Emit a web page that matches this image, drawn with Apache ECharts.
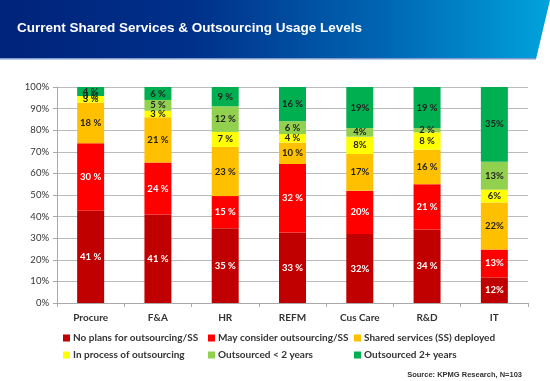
<!DOCTYPE html>
<html><head><meta charset="utf-8">
<script src="https://cdn.jsdelivr.net/npm/echarts@6/dist/echarts.min.js"></script>
<style>html,body{margin:0;padding:0;background:#fff}#c{width:550px;height:381px}</style>
</head><body><div id="c"></div>
<script>
const categories = ['Procure','F&A','HR','REFM','Cus Care','R&D','IT'];
const seriesNames = ['No plans for outsourcing/SS','May consider outsourcing/SS','Shared services (SS) deployed','In process of outsourcing','Outsourced < 2 years','Outsourced 2+ years'];
const noPlans     = [41,41,35,33,32,34,12];
const mayConsider = [30,24,15,32,20,21,13];
const sharedSvc   = [18,21,23,10,17,16,22];
const inProcess   = [3,3,7,4,8,8,6];
const outLt2      = [0,5,12,6,4,2,13];
const out2plus    = [4,6,9,16,19,19,35];
const labelSep    = [' ',' ',' ',' ','',' ',''];
const yTicks = ['0%','10%','20%','30%','40%','50%','60%','70%','80%','90%','100%'];

const raw = [noPlans, mayConsider, sharedSvc, inProcess, outLt2, out2plus];
const colors = ['#C00000','#FF0000','#FFC000','#FFFF00','#92D050','#00B050'];
const labelColors = ['#fff','#fff','#222','#222','#222','#222'];
const totals = categories.map((c,i)=>raw.reduce((s,a)=>s+a[i],0));

const chart = echarts.init(document.getElementById('c'));
const series = raw.map((arr,k)=>({
  name: seriesNames[k], type:'bar', stack:'s', barWidth:27,
  itemStyle:{color:colors[k]},
  data: arr.map((v,i)=>({value: v/totals[i]*100, raw:v})),
  label:{show:true, position:'inside', fontFamily:'Lato', fontWeight:'bold', fontSize:9.5,
    color:labelColors[k],
    formatter:(p)=> p.data.raw + labelSep[p.dataIndex] + '%'}
}));

const legPos = [[63,333],[208,333],[354,333],[63,350],[208,350],[354,350]];
const legends = seriesNames.map((n,k)=>({
  data:[n], left:legPos[k][0], top:legPos[k][1], itemWidth:7, itemHeight:7, icon:'rect',
  padding:0, itemGap:4, textStyle:{fontFamily:'Lato', fontWeight:'bold', fontSize:10, color:'#333', padding:[0,0,0,-2]},
  selectedMode:false
}));

chart.setOption({
  animation:false,
  graphic:[
    {type:'polygon', shape:{points:[[0,0],[550,0],[536,59],[0,59]]},
     style:{fill:new echarts.graphic.LinearGradient(0,0,1,0,[{offset:0,color:'#00237A'},{offset:0.35,color:'#00308A'},{offset:0.7,color:'#0066B3'},{offset:1,color:'#00A3DC'}])}},
    {type:'rect', shape:{x:0,y:58,width:536,height:1.5}, style:{fill:'#7E9BD0'}},
    {type:'text', left:17, top:21, style:{text:'Current Shared Services & Outsourcing Usage Levels', fill:'#fff', font:'bold 13.5px "Liberation Sans", Arial'}},
    {type:'text', right:28, top:371, style:{text:'Source: KPMG Research, N=103', fill:'#333', font:'bold 7.5px "Liberation Sans", Arial'}}
  ],
  grid:{left:57, right:22, top:87, bottom:78, containLabel:false},
  legend: legends,
  xAxis:{type:'category', data:categories,
    axisLine:{lineStyle:{color:'#aaa'}}, axisTick:{show:true, alignWithLabel:false, length:4, lineStyle:{color:'#aaa'}},
    axisLabel:{fontFamily:'Lato', fontWeight:'bold', fontSize:10, color:'#333', margin:10}},
  yAxis:{type:'value', min:0, max:100, interval:10,
    axisLine:{show:true, lineStyle:{color:'#aaa'}}, axisTick:{show:true, length:4, lineStyle:{color:'#aaa'}},
    splitLine:{lineStyle:{color:'#bbb'}},
    axisLabel:{fontFamily:'Lato', fontSize:9.5, color:'#333', margin:8, formatter:(v)=>yTicks[Math.round(v/10)]}},
  series
});
</script></body></html>
